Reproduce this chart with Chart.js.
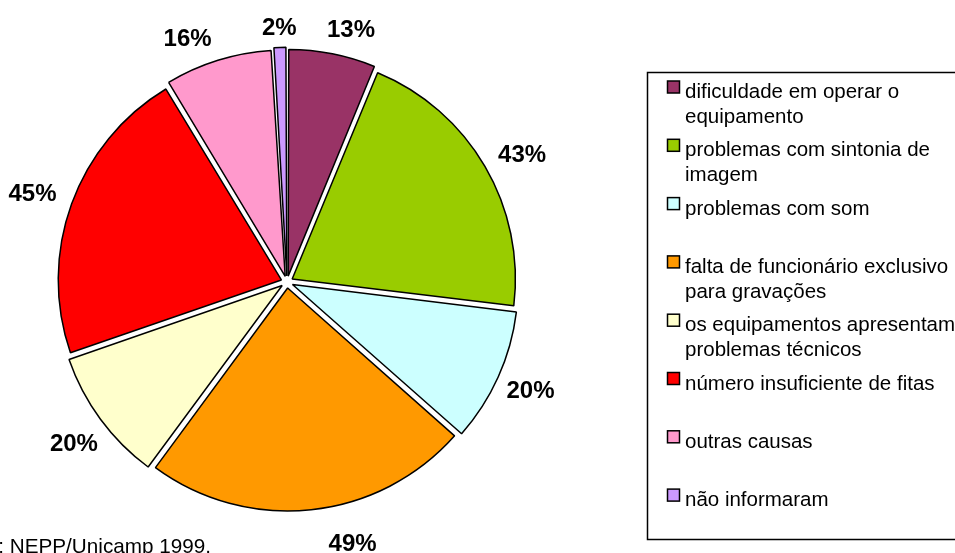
<!DOCTYPE html>
<html>
<head>
<meta charset="utf-8">
<script src="https://cdn.jsdelivr.net/npm/chart.js@4/dist/chart.umd.min.js"></script>
<style>
  body { margin: 0; background: #fff; overflow: hidden; }
  #wrap { width: 955px; height: 553px; position: relative; }
</style>
</head>
<body>
<div id="wrap"><canvas id="pie" width="955" height="553"></canvas></div>
<script>
  // answers (%), one per cause
  const causes = [
    ['dificuldade em operar o', 'equipamento'],
    ['problemas com sintonia de', 'imagem'],
    ['problemas com som'],
    ['falta de funcionário exclusivo', 'para gravações'],
    ['os equipamentos apresentam', 'problemas técnicos'],
    ['número insuficiente de fitas'],
    ['outras causas'],
    ['não informaram']
  ];
  const percents = [13, 43, 20, 49, 20, 45, 16, 2];
  const sliceColors = ['#993366', '#99CC00', '#CCFFFF', '#FF9900', '#FFFFCC', '#FF0000', '#FF99CC', '#CC99FF'];
  const sourceNote = 'Fonte: NEPP/Unicamp 1999.';

  const font = 'Arial, "Liberation Sans", sans-serif';
  // small tweaks so labels sit where the original put them (degrees, px)
  const labelNudge = [3, 2, 0, -8, -1, -1, -5, 0];
  const labelPull = [-7, 0, 0, 3, 1, 2, -5, -13];

  const outsideLabels = {
    id: 'outsideLabels',
    afterDatasetsDraw(chart) {
      const ctx = chart.ctx;
      const arcs = chart.getDatasetMeta(0).data;
      ctx.save();
      ctx.fillStyle = '#000';
      ctx.font = 'bold 24px ' + font;
      ctx.textAlign = 'center';
      ctx.textBaseline = 'middle';
      arcs.forEach((arc, i) => {
        const p = arc.getProps(['x', 'y', 'startAngle', 'endAngle', 'outerRadius'], true);
        const mid = (p.startAngle + p.endAngle) / 2 + labelNudge[i] * Math.PI / 180;
        const r = p.outerRadius + 44 + labelPull[i];
        ctx.fillText(percents[i] + '%', p.x + Math.cos(mid) * r, p.y + Math.sin(mid) * r);
      });

      // source line, cut at the left edge like the original
      ctx.font = '20.7px ' + font;
      ctx.textAlign = 'right';
      ctx.textBaseline = 'alphabetic';
      ctx.fillText(sourceNote, 211, 553);
      ctx.restore();
    }
  };

  const boxLegend = {
    id: 'boxLegend',
    afterDraw(chart) {
      const ctx = chart.ctx;
      const ds = chart.data.datasets[0];
      ctx.save();
      ctx.strokeStyle = '#000';
      ctx.lineWidth = 1.5;
      ctx.strokeRect(647.5, 72.5, 400, 467);
      ctx.font = '20.5px ' + font;
      ctx.textBaseline = 'alphabetic';
      ctx.textAlign = 'left';
      chart.data.labels.forEach((lines, i) => {
        const base = 98 + i * 58.3;
        ctx.fillStyle = ds.backgroundColor[i];
        ctx.fillRect(667.5, base - 17, 12, 12);
        ctx.strokeRect(667.5, base - 17, 12, 12);
        ctx.fillStyle = '#000';
        lines.forEach((t, k) => ctx.fillText(t, 685, base + k * 25));
      });
      ctx.restore();
    }
  };

  new Chart(document.getElementById('pie'), {
    type: 'pie',
    data: {
      labels: causes,
      datasets: [{
        data: percents,
        backgroundColor: sliceColors,
        borderColor: '#000',
        borderWidth: 1.5,
        offset: 24
      }]
    },
    options: {
      responsive: false,
      animation: false,
      radius: 223,
      layout: { padding: { left: 0, right: 381, top: 11, bottom: 0 } },
      plugins: {
        legend: { display: false },
        tooltip: { enabled: false }
      }
    },
    plugins: [outsideLabels, boxLegend]
  });
</script>
</body>
</html>
